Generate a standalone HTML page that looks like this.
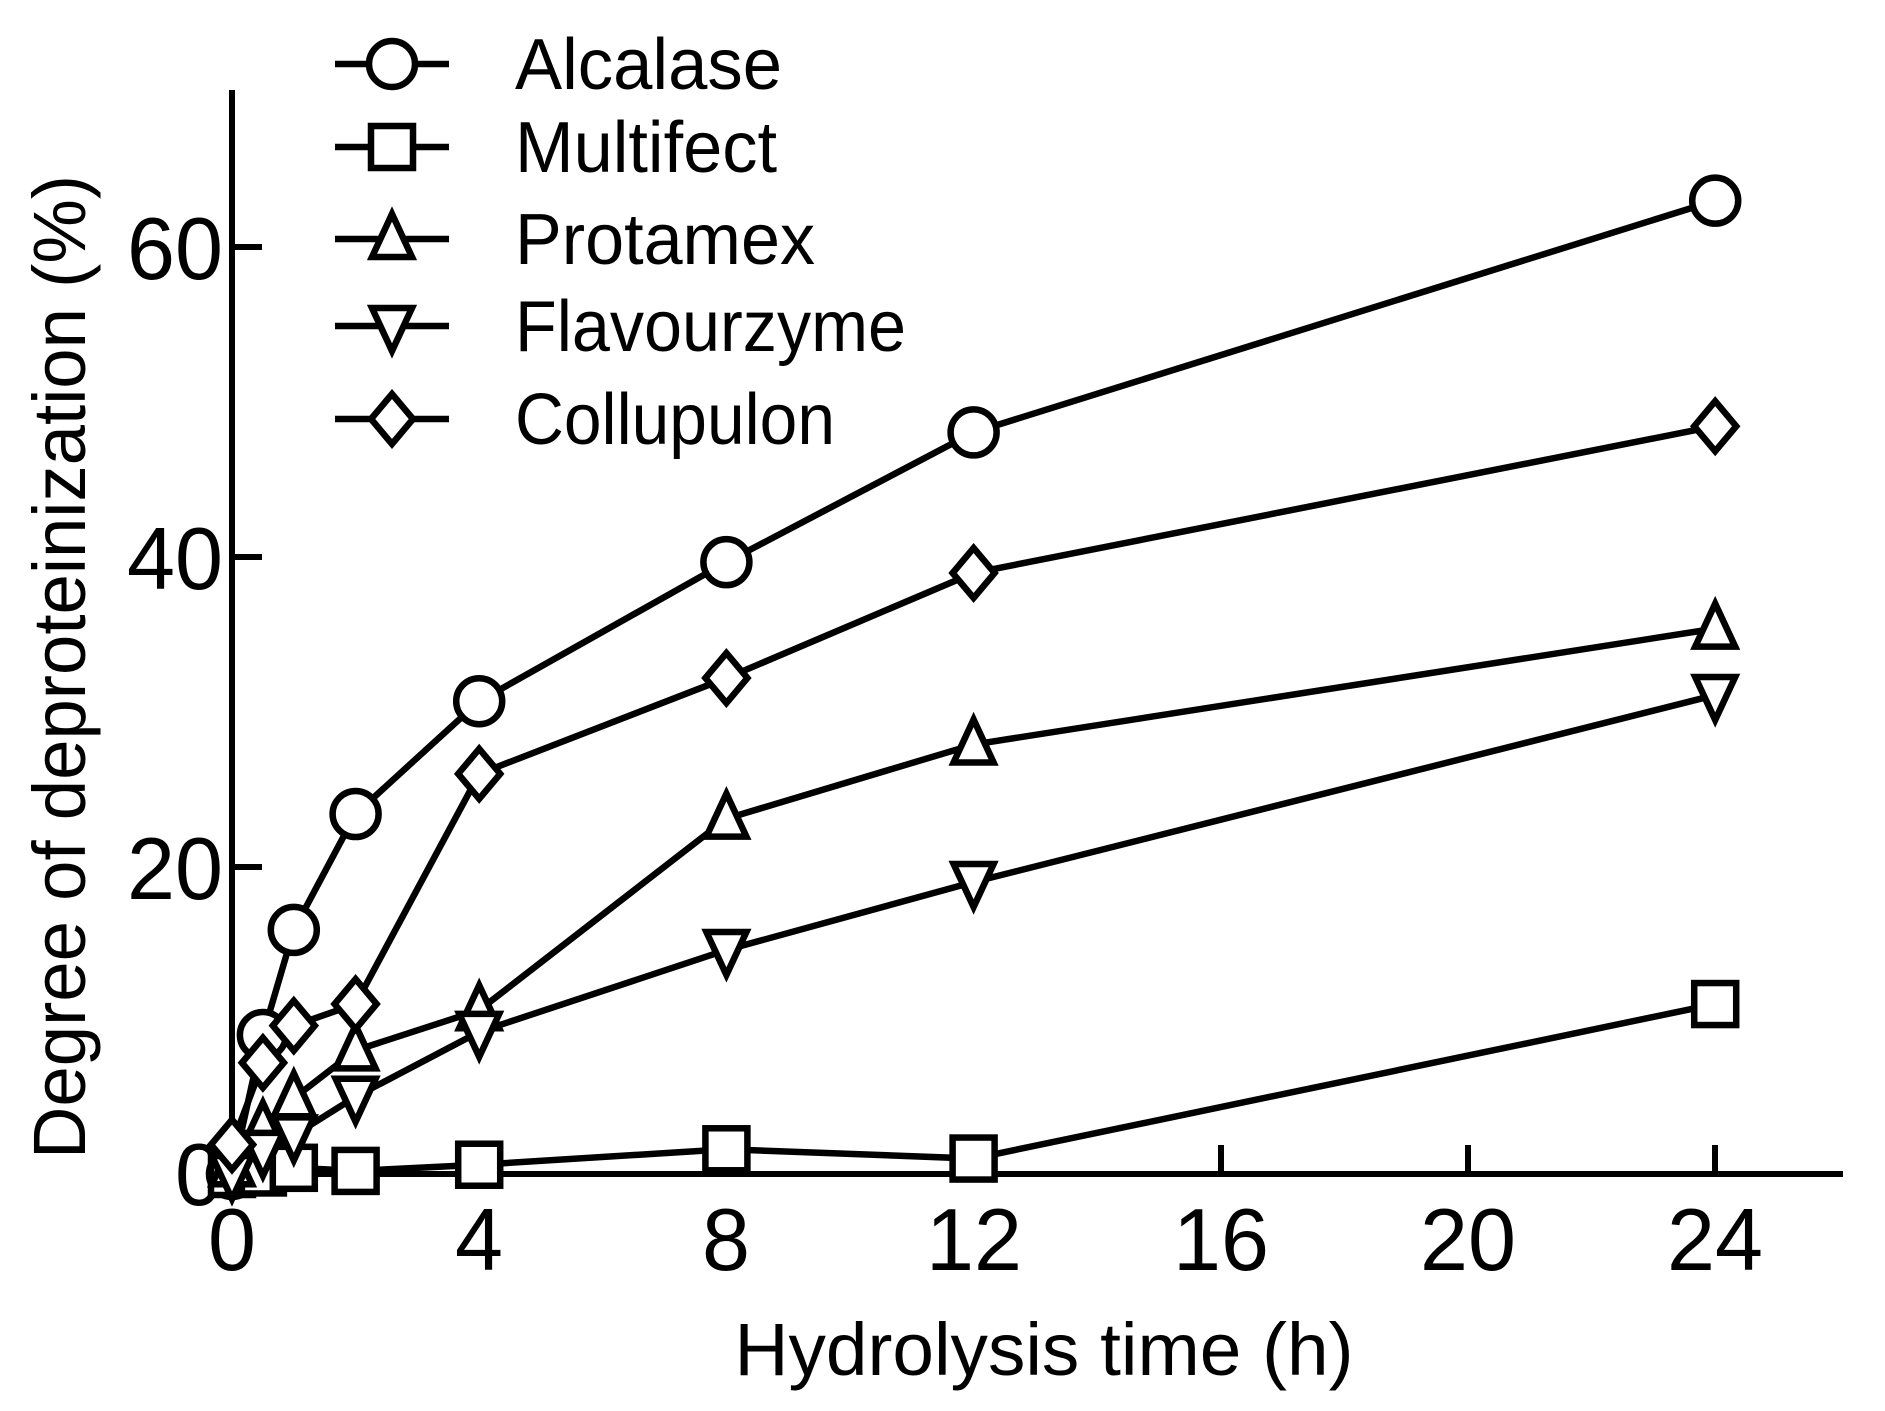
<!DOCTYPE html>
<html><head><meta charset="utf-8"><style>
html,body{margin:0;padding:0;background:#fff;}
svg{display:block;font-family:"Liberation Sans",Arial,sans-serif;}
</style></head><body>
<svg id="s" width="1885" height="1411" viewBox="0 0 1885 1411" xmlns="http://www.w3.org/2000/svg">
<g stroke="#000" stroke-width="6" fill="none">
<line x1="232" y1="90" x2="232" y2="1177"/>
<line x1="229" y1="1174" x2="1843" y2="1174"/>
<line x1="232" y1="247" x2="262" y2="247"/>
<line x1="232" y1="557" x2="262" y2="557"/>
<line x1="232" y1="867" x2="262" y2="867"/>
<line x1="479" y1="1174" x2="479" y2="1145"/>
<line x1="726" y1="1174" x2="726" y2="1145"/>
<line x1="974" y1="1174" x2="974" y2="1145"/>
<line x1="1221" y1="1174" x2="1221" y2="1145"/>
<line x1="1468" y1="1174" x2="1468" y2="1145"/>
<line x1="1715" y1="1174" x2="1715" y2="1145"/>
</g>
<g font-size="88" text-anchor="end" fill="#000">
<text x="223" y="279" textLength="96" lengthAdjust="spacingAndGlyphs">60</text>
<text x="223" y="589" textLength="96" lengthAdjust="spacingAndGlyphs">40</text>
<text x="223" y="899" textLength="96" lengthAdjust="spacingAndGlyphs">20</text>
<text x="223" y="1205" textLength="48" lengthAdjust="spacingAndGlyphs">0</text>
</g>
<g font-size="88" text-anchor="middle" fill="#000">
<text x="232" y="1270" textLength="48" lengthAdjust="spacingAndGlyphs">0</text>
<text x="479" y="1270" textLength="48" lengthAdjust="spacingAndGlyphs">4</text>
<text x="726" y="1270" textLength="48" lengthAdjust="spacingAndGlyphs">8</text>
<text x="974" y="1270" textLength="96" lengthAdjust="spacingAndGlyphs">12</text>
<text x="1221" y="1270" textLength="96" lengthAdjust="spacingAndGlyphs">16</text>
<text x="1468" y="1270" textLength="96" lengthAdjust="spacingAndGlyphs">20</text>
<text x="1715" y="1270" textLength="96" lengthAdjust="spacingAndGlyphs">24</text>
</g>
<text x="1044" y="1375" font-size="74" text-anchor="middle" textLength="619" lengthAdjust="spacingAndGlyphs">Hydrolysis time (h)</text>
<text transform="translate(85,667) rotate(-90)" font-size="74" text-anchor="middle" textLength="984" lengthAdjust="spacingAndGlyphs">Degree of deproteinization (%)</text>
<g id="plot" stroke="#000" stroke-width="6.5" fill="#fff"></g>
<g id="leg" stroke="#000" stroke-width="6.5" fill="#fff"></g>
<g font-size="72" fill="#000">
<text x="515" y="89" textLength="267" lengthAdjust="spacingAndGlyphs">Alcalase</text>
<text x="515" y="172" textLength="262" lengthAdjust="spacingAndGlyphs">Multifect</text>
<text x="515" y="264" textLength="300" lengthAdjust="spacingAndGlyphs">Protamex</text>
<text x="515" y="351" textLength="391" lengthAdjust="spacingAndGlyphs">Flavourzyme</text>
<text x="515" y="444" textLength="320" lengthAdjust="spacingAndGlyphs">Collupulon</text>
</g>
</svg>
<script>
var X=function(h){return 232+61.8*h},Y=function(v){return 1174-15.45*v};
var t=[0,0.5,1,2,4,8,12,24];
var S=[
 ['circle',[0,9,15.8,23.3,30.6,39.6,48,63]],
 ['square',[0,0.1,0.4,0.2,0.6,1.6,1,11]],
 ['up',[0.5,3,4.9,8,10.6,23,27.8,35.3]],
 ['down',[0,1.5,2.5,5,9.2,14.5,18.9,31]],
 ['diamond',[1.9,7.2,9.6,11,25.9,32.1,38.9,48.4]]
];
var ns='http://www.w3.org/2000/svg';
function el(g,n,a){var e=document.createElementNS(ns,n);for(var k in a)e.setAttribute(k,a[k]);g.appendChild(e);return e;}
function mk(g,type,x,y){var r=23;
 if(type=='circle')el(g,'circle',{cx:x,cy:y,r:r});
 else if(type=='square')el(g,'rect',{x:x-r+2,y:y-r+2,width:2*r-4,height:2*r-4});
 else if(type=='up')el(g,'polygon',{points:(x)+','+(y-r-2)+' '+(x+r-3)+','+(y+r-5)+' '+(x-r+3)+','+(y+r-5)});
 else if(type=='down')el(g,'polygon',{points:(x)+','+(y+r+2)+' '+(x+r-3)+','+(y-r+5)+' '+(x-r+3)+','+(y-r+5)});
 else el(g,'polygon',{points:x+','+(y-r-2)+' '+(x+r-2)+','+y+' '+x+','+(y+r+2)+' '+(x-r+2)+','+y});
}
var p=document.getElementById('plot');
S.forEach(function(s){var pts=t.map(function(h,i){return X(h)+','+Y(s[1][i])}).join(' ');
 el(p,'polyline',{points:pts,fill:'none'});});
S.forEach(function(s){t.forEach(function(h,i){mk(p,s[0],X(h),Y(s[1][i]));});});
var lg=document.getElementById('leg'),ly=[64,147,239,326,419];
S.forEach(function(s,i){el(lg,'line',{x1:335,y1:ly[i],x2:449,y2:ly[i]});mk(lg,s[0],392,ly[i]);});
</script>
</body></html>
